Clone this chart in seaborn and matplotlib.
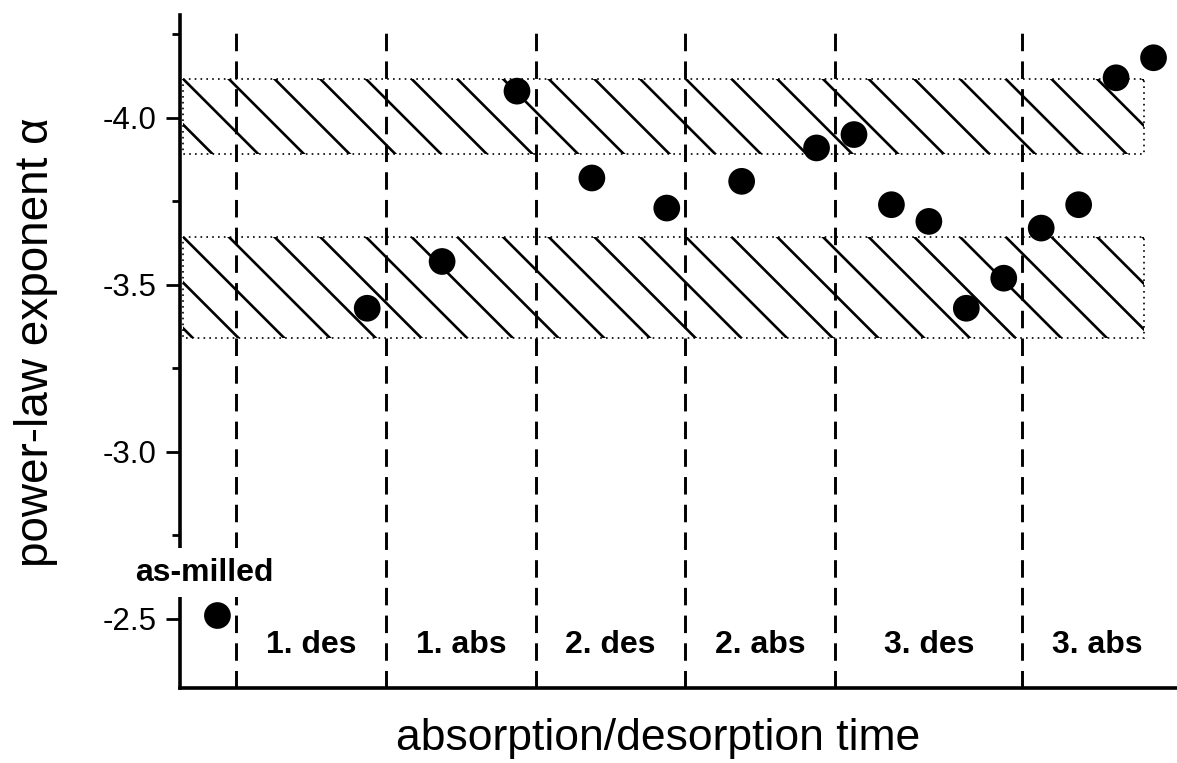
import numpy as np
import pandas as pd
import matplotlib.pyplot as plt
import seaborn as sns
from matplotlib.patches import Rectangle
from matplotlib.lines import Line2D
from matplotlib.transforms import IdentityTransform

# data
step = [1, 5, 7, 9, 11, 13, 15, 17, 18, 19, 20, 21, 22, 23, 24, 25, 26]
alpha = [-2.51, -3.43, -3.57, -4.08, -3.82, -3.73, -3.81, -3.91, -3.95,
         -3.74, -3.69, -3.43, -3.52, -3.67, -3.74, -4.12, -4.18]

boundaries = [1.5, 5.5, 9.5, 13.5, 17.5, 22.5]
phase_labels = ["1. des", "1. abs", "2. des", "2. abs", "3. des", "3. abs"]
phase_x = [3.5, 7.5, 11.5, 15.5, 20.0, 24.5]

# hatched alpha ranges (top, bottom) and their x extent
bands = [(-4.117, -3.892), (-3.644, -3.341)]
band_x = (0.08, 25.75)

ytick_vals = [-4.0, -3.5, -3.0, -2.5]
ytick_minor = [-4.25, -3.75, -3.25, -2.75]

sns.set_theme(style="ticks")
plt.rcParams['font.family'] = ['Liberation Sans', 'DejaVu Sans']

fig = plt.figure(figsize=(11.77, 7.63), dpi=100)
ax = fig.add_axes([180 / 1177, 1 - 688 / 763, 996 / 1177, 673 / 763])

df = pd.DataFrame({'step': step, 'alpha': alpha})
sns.scatterplot(data=df, x='step', y='alpha', s=370, color='black',
                edgecolor='none', zorder=5, ax=ax)

ax.set_xlim(0, 26.6)
ax.set_ylim(-2.293, -4.308)

# phase separators
for b in boundaries:
    ax.axvline(b, ymax=0.988, color='black', lw=2.1, ls=(0, (6, 3.5)), zorder=3)

# hatched bands (hatch drawn in pixel space so the spacing matches)
spacing = 45.7
for top, bot in bands:
    rect = Rectangle((band_x[0], top), band_x[1] - band_x[0], bot - top,
                     fill=False, edgecolor='black', lw=1.2, ls=(0, (1, 2.5)), zorder=2)
    ax.add_patch(rect)
    p = ax.transData.transform([(band_x[0], top), (band_x[1], bot)])
    cx = p[:, 0].min()
    cy = p[:, 1].max()
    for k in range(-5, 30):
        x0 = cx + k * spacing
        ln = Line2D([x0 - 300, x0 + 300], [cy + 300, cy - 300], color='black',
                    lw=1.9, transform=IdentityTransform(), zorder=2)
        ax.add_artist(ln)
        ln.set_clip_path(rect)

for lab, x in zip(phase_labels, phase_x):
    ax.text(x, -2.422, lab, ha='center', va='center', fontsize=23,
            fontweight='bold', color='black')

ax.text(0.64, -2.638, 'as-milled', ha='center', va='center', fontsize=23,
        fontweight='bold', color='black', zorder=10,
        bbox=dict(boxstyle='square,pad=0.3', fc='white', ec='none'))

ax.set_yticks(ytick_vals)
ax.set_yticklabels([f"{v:.1f}" for v in ytick_vals])
ax.set_yticks(ytick_minor, minor=True)
ax.set_xticks([])
ax.tick_params(axis='y', which='major', length=10, width=2, color='black',
               labelsize=22.5, labelcolor='black', pad=7, direction='out')
ax.tick_params(axis='y', which='minor', length=6, width=2, color='black',
               direction='out')

for side in ['top', 'right']:
    ax.spines[side].set_visible(False)
for side in ['left', 'bottom']:
    ax.spines[side].set_linewidth(2.6)
    ax.spines[side].set_color('black')

ax.set_xlabel('absorption/desorption time', fontsize=32, color='black')
ax.xaxis.set_label_coords((658 - 180) / 996, -0.045)
ax.set_ylabel('power-law exponent α', fontsize=33, color='black')
ax.yaxis.set_label_coords(-0.1225, 0.514)

fig.savefig('out.png', dpi=100, facecolor='white')
